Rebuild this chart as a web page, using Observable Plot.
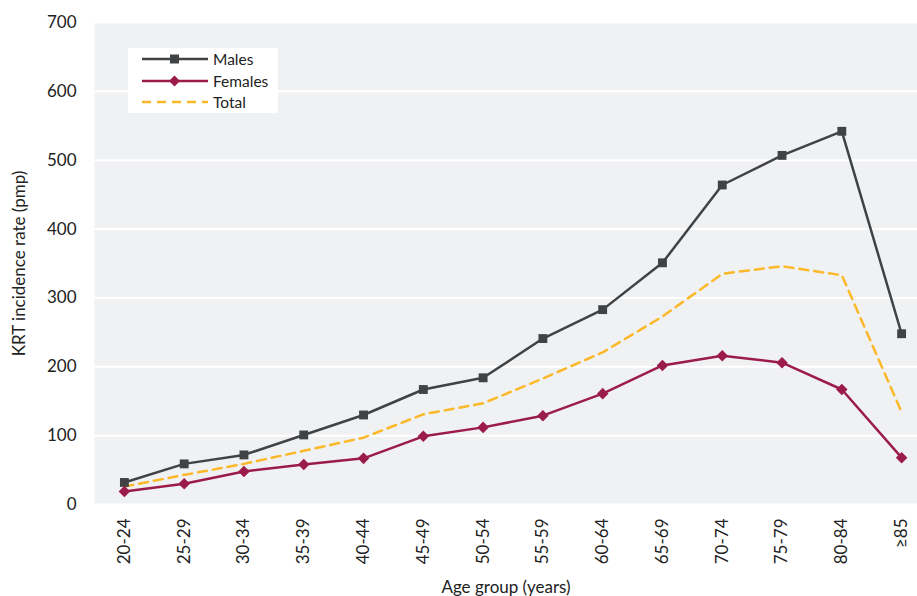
<!DOCTYPE html>
<html>
<head>
<meta charset="utf-8">
<script src="https://cdn.jsdelivr.net/npm/d3@7"></script>
<script src="https://cdn.jsdelivr.net/npm/@observablehq/plot@0.6"></script>
<style>
  html, body { margin: 0; padding: 0; background: #fff; }
  #wrap { position: relative; width: 917px; height: 596px; font-family: "Lato", "Liberation Sans", sans-serif; }
  #legend { position: absolute; left: 128px; top: 48px; width: 150px; height: 65px; background: #fff; }
  .row { position: absolute; left: 14px; height: 20px; display: flex; align-items: center; font-size: 15.5px; color: #222; }
  .row svg { margin-right: 5px; }
</style>
</head>
<body>
<div id="wrap"></div>
<script>
const ages = ["20-24","25-29","30-34","35-39","40-44","45-49","50-54","55-59","60-64","65-69","70-74","75-79","80-84","≥85"];
const males   = [32, 59, 72, 101, 130, 167, 184, 241, 283, 351, 464, 507, 542, 248];
const females = [19, 30, 48, 58, 67, 99, 112, 129, 161, 202, 216, 206, 167, 68];
const total   = [26, 43, 59, 78, 97, 131, 147, 183, 221, 273, 335, 346, 333, 134];
const yTicks = [0, 100, 200, 300, 400, 500, 600, 700];

const seriesNames = ["Males", "Females", "Total"];
const colors = {Males: "#404244", Females: "#9b1c4b", Total: "#fbb829"};

const rows = ages.map((a, i) => ({age: a, Males: males[i], Females: females[i], Total: total[i]}));

const chart = Plot.plot({
  width: 917,
  height: 596,
  marginLeft: 94,
  marginRight: 0,
  marginTop: 22,
  marginBottom: 92,
  style: {fontFamily: "Lato, 'Liberation Sans', sans-serif", fontSize: "17px", color: "#222", background: "transparent"},
  x: {type: "point", domain: ages, range: [94, 931], padding: 0.5, round: false},
  y: {domain: [0, 700]},
  marks: [
    Plot.frame({fill: "#f0f1f3", stroke: null}),
    Plot.gridY(yTicks, {stroke: "#fff", strokeOpacity: 1, strokeWidth: 2}),
    Plot.axisY(yTicks, {tickSize: 0, tickPadding: 18, fontSize: 17, label: "KRT incidence rate (pmp)", labelAnchor: "center", labelOffset: 82, labelArrow: "none"}),
    Plot.axisX({tickSize: 0, tickPadding: 14, tickRotate: -90, fontSize: 17, label: "Age group (years)", labelAnchor: "center", labelOffset: 88, labelArrow: "none"}),
    Plot.line(rows, {x: "age", y: "Total", stroke: colors.Total, strokeWidth: 2.5, strokeDasharray: "9,6"}),
    Plot.line(rows, {x: "age", y: "Males", stroke: colors.Males, strokeWidth: 2.5}),
    Plot.line(rows, {x: "age", y: "Females", stroke: colors.Females, strokeWidth: 2.5}),
    Plot.dot(rows, {x: "age", y: "Males", symbol: "square", r: 5, fill: colors.Males, stroke: null}),
    Plot.dot(rows, {x: "age", y: "Females", symbol: "diamond2", r: 5.2, fill: colors.Females, stroke: null})
  ]
});
const wrap = document.getElementById("wrap");
wrap.appendChild(chart);

// legend
const legend = document.createElement("div");
legend.id = "legend";
const swatch = {
  Males: `<svg width="66" height="12"><line x1="0" y1="6" x2="66" y2="6" stroke="${colors.Males}" stroke-width="2.5"/><rect x="28" y="1.5" width="9" height="9" fill="${colors.Males}"/></svg>`,
  Females: `<svg width="66" height="12"><line x1="0" y1="6" x2="66" y2="6" stroke="${colors.Females}" stroke-width="2.5"/><path d="M32.5,0.5 L38,6 L32.5,11.5 L27,6Z" fill="${colors.Females}"/></svg>`,
  Total: `<svg width="66" height="12"><line x1="0" y1="6" x2="66" y2="6" stroke="${colors.Total}" stroke-width="2.5" stroke-dasharray="9,6"/></svg>`
};
seriesNames.forEach((s, i) => {
  const r = document.createElement("div");
  r.className = "row";
  r.style.top = (1 + i * 21.5) + "px";
  r.innerHTML = swatch[s] + `<span>${s}</span>`;
  legend.appendChild(r);
});
wrap.appendChild(legend);
</script>
</body>
</html>
